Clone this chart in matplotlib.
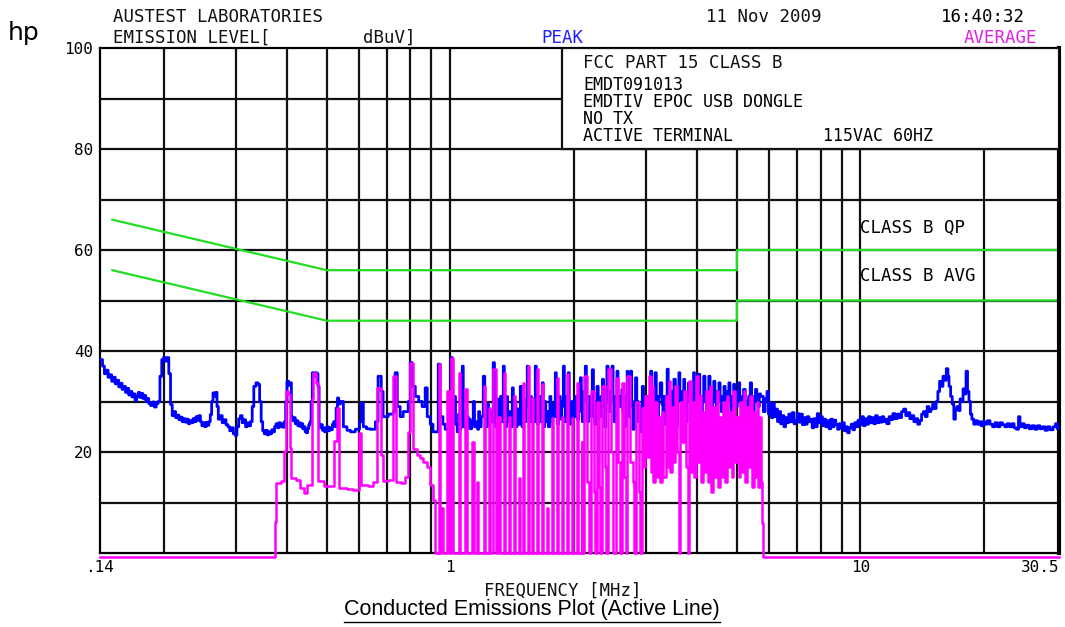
import matplotlib
matplotlib.use("Agg")
import matplotlib.pyplot as plt
from matplotlib.patches import Rectangle
from matplotlib.lines import Line2D

W, H = 1065, 627

# peak detector trace (blue), MHz / dBuV in stretches
peak_mhz_lo = [0.140, 0.142, 0.1435, 0.145, 0.1465, 0.148, 0.1495, 0.151, 0.1525, 0.154,
               0.1555, 0.157, 0.1585, 0.160, 0.1615, 0.163, 0.1645, 0.166, 0.1675, 0.169,
               0.1705, 0.172, 0.1735, 0.175, 0.1765, 0.178, 0.1795, 0.181, 0.1825, 0.184,
               0.186, 0.188, 0.190, 0.192, 0.194, 0.196, 0.198, 0.200, 0.202, 0.204,
               0.206, 0.208, 0.210, 0.212, 0.214, 0.216, 0.218, 0.220, 0.222, 0.224,
               0.226, 0.228, 0.230, 0.232, 0.234, 0.236, 0.238, 0.240, 0.242, 0.244,
               0.246, 0.248, 0.250, 0.252, 0.254, 0.256, 0.258, 0.260, 0.262, 0.264,
               0.266, 0.268, 0.270, 0.272, 0.275, 0.278, 0.281, 0.284, 0.287, 0.290,
               0.293, 0.296, 0.299, 0.302, 0.305, 0.308, 0.311, 0.314, 0.317, 0.320,
               0.323, 0.326, 0.329, 0.332, 0.336, 0.340, 0.343, 0.346, 0.349, 0.352,
               0.355, 0.358, 0.361, 0.364, 0.367, 0.370, 0.373, 0.376, 0.379, 0.382,
               0.385, 0.388, 0.391, 0.394, 0.397, 0.400, 0.404, 0.408, 0.410, 0.413,
               0.416, 0.419, 0.422, 0.425, 0.428, 0.431, 0.434, 0.437, 0.440, 0.443,
               0.446, 0.449, 0.452, 0.455, 0.458, 0.461, 0.465, 0.469, 0.473, 0.476,
               0.479, 0.482, 0.485, 0.488, 0.491, 0.494, 0.497, 0.500, 0.504, 0.508,
               0.512, 0.516, 0.520, 0.524, 0.527, 0.531, 0.535]
peak_dbuv_lo = [38.3, 37.0, 35.5, 36.2, 34.8, 35.3, 34.0, 34.8, 33.5, 34.2,
                32.9, 33.6, 32.4, 33.0, 31.8, 32.6, 31.3, 32.0, 30.9, 31.5,
                30.2, 31.0, 31.8, 30.8, 31.6, 30.6, 31.2, 30.0, 30.6, 29.6,
                29.2, 29.9, 28.9, 29.6, 30.0, 35.0, 38.3, 38.7, 38.0, 38.7,
                35.5, 29.4, 27.2, 28.0, 26.8, 27.3, 26.4, 26.9, 26.0, 26.6,
                25.9, 26.5, 25.6, 26.2, 25.8, 26.6, 26.0, 27.0, 26.3, 27.2,
                26.0, 25.2, 25.8, 25.0, 25.9, 25.3, 26.0, 27.4, 30.0, 31.7,
                31.0, 31.8, 29.0, 26.5, 27.2, 25.8, 26.4, 25.4, 25.0, 24.2,
                24.8, 23.6, 23.3, 25.0, 26.6, 27.2, 25.8, 26.4, 25.0, 25.8,
                25.2, 26.0, 29.0, 33.0, 33.7, 33.4, 30.0, 26.0, 24.2, 23.6,
                24.3, 23.4, 24.0, 23.6, 24.4, 24.0, 25.0, 25.6, 24.8, 25.8,
                25.0, 25.6, 24.9, 26.0, 30.0, 34.0, 33.2, 33.7, 27.0, 26.2,
                26.8, 25.6, 26.2, 25.2, 25.8, 25.0, 25.6, 24.6, 25.0, 24.0,
                23.8, 24.6, 25.4, 26.0, 30.0, 35.7, 35.0, 35.7, 35.5, 33.0,
                25.5, 24.8, 25.4, 24.3, 24.8, 24.0, 24.6, 25.0, 24.2, 24.8,
                24.4, 25.5, 26.0, 25.0, 28.7, 30.7, 29.5]

peak_mhz_mid = [0.540, 0.549, 0.560, 0.571, 0.587, 0.601, 0.607, 0.614, 0.625, 0.638,
                0.657, 0.667, 0.679, 0.686, 0.706, 0.726, 0.734, 0.743, 0.755, 0.768,
                0.790, 0.799, 0.808, 0.822, 0.838, 0.854, 0.869, 0.879, 0.894, 0.908,
                0.935, 0.945, 0.960, 0.972, 0.990]
peak_dbuv_mid = [30.0, 25.0, 24.3, 24.0, 24.5, 26.0, 29.7, 25.0, 24.6, 24.5,
                 26.0, 35.0, 32.0, 27.0, 27.5, 28.0, 35.7, 29.0, 27.0, 28.0,
                 30.0, 37.7, 33.0, 31.0, 30.0, 29.0, 32.7, 27.0, 25.5, 24.0,
                 37.4, 27.0, 25.5, 24.5, 27.0]

peak_mhz_comb = [1.005, 1.012, 1.017, 1.024, 1.030, 1.040, 1.048, 1.055, 1.062, 1.070,
                 1.076, 1.085, 1.092, 1.098, 1.106, 1.112, 1.119, 1.128, 1.138, 1.146,
                 1.157, 1.166, 1.173, 1.180, 1.190, 1.204, 1.214, 1.224, 1.232, 1.240,
                 1.250, 1.262, 1.273, 1.282, 1.290, 1.300, 1.308, 1.315, 1.326, 1.336,
                 1.347, 1.355, 1.362, 1.372, 1.380, 1.390, 1.402, 1.417, 1.425, 1.436,
                 1.446, 1.455, 1.466, 1.482, 1.490, 1.497, 1.510, 1.520, 1.530, 1.541,
                 1.550, 1.558, 1.570, 1.578, 1.585, 1.600, 1.612, 1.622, 1.631, 1.643,
                 1.655, 1.665, 1.677, 1.686, 1.700, 1.710, 1.720, 1.735, 1.750, 1.760,
                 1.770, 1.785, 1.804, 1.814, 1.824, 1.838, 1.855, 1.870, 1.887, 1.898,
                 1.908, 1.925, 1.940, 1.951, 1.962, 1.980, 2.000, 2.020, 2.040, 2.058,
                 2.076, 2.088, 2.100, 2.118,
                 2.135, 2.148, 2.160, 2.175, 2.190, 2.205, 2.220, 2.235, 2.250, 2.265,
                 2.280, 2.295, 2.310, 2.330, 2.350, 2.365, 2.380, 2.395, 2.410, 2.425,
                 2.440, 2.460, 2.480, 2.495, 2.510, 2.530, 2.550, 2.565, 2.580, 2.600,
                 2.620, 2.635, 2.650, 2.675, 2.700, 2.710, 2.720, 2.735, 2.750, 2.770,
                 2.790, 2.810, 2.830, 2.850, 2.870, 2.890, 2.910, 2.925, 2.940, 2.960,
                 2.980, 3.000,
                 3.02, 3.05, 3.08, 3.10, 3.12, 3.14, 3.16, 3.18, 3.20, 3.22,
                 3.25, 3.28, 3.30, 3.32, 3.34, 3.36, 3.38, 3.40, 3.43, 3.45,
                 3.47, 3.49, 3.51, 3.54, 3.56, 3.58, 3.61, 3.63, 3.66, 3.68,
                 3.71, 3.73, 3.76, 3.78, 3.81, 3.83, 3.86, 3.89, 3.92, 3.94,
                 3.97, 4.00, 4.03, 4.06, 4.09, 4.12, 4.15, 4.18, 4.21, 4.24,
                 4.27, 4.30, 4.33, 4.36, 4.39, 4.42, 4.45, 4.48, 4.52, 4.55,
                 4.58, 4.61, 4.65, 4.68, 4.71, 4.74, 4.78, 4.81, 4.84, 4.87,
                 4.91, 4.94, 4.98, 5.01, 5.05, 5.08, 5.12, 5.15, 5.19, 5.24,
                 5.29, 5.34, 5.39, 5.43, 5.47, 5.51, 5.55, 5.59, 5.63, 5.67,
                 5.71]
peak_dbuv_comb = [38.7, 30.0, 26.0, 31.0, 25.5, 24.0, 27.5, 24.5, 29.0, 37.0,
                  25.0, 28.0, 24.5, 27.0, 25.0, 26.5, 24.6, 26.0, 30.0, 25.0,
                  26.0, 24.5, 28.0, 25.0, 27.0, 35.0, 27.0, 25.0, 29.5, 25.5,
                  28.0, 26.0, 37.7, 27.0, 25.0, 30.5, 25.5, 27.0, 31.0, 26.0,
                  37.0, 28.0, 25.0, 31.0, 26.0, 28.0, 25.0, 32.7, 26.0, 30.0,
                  25.0, 28.5, 25.5, 33.0, 27.0, 25.0, 30.0, 26.0, 30.5, 37.0,
                  29.0, 26.0, 31.0, 26.0, 29.0, 26.0, 37.0, 29.0, 25.5, 31.0,
                  26.0, 29.0, 33.7, 25.0, 30.0, 26.0, 28.0, 25.0, 31.0, 26.0,
                  29.5, 27.0, 35.7, 28.0, 25.5, 31.0, 26.5, 30.0, 37.0, 29.0,
                  26.0, 31.0, 35.7, 28.0, 25.5, 30.0, 27.0, 31.0, 26.5, 30.0,
                  34.7, 28.0, 26.0, 32.0,
                  37.0, 30.0, 26.0, 31.0, 30.0, 27.0, 36.3, 29.0, 25.5, 30.0,
                  33.0, 29.0, 27.0, 31.0, 34.4, 29.0, 25.0, 31.0, 37.0, 30.0,
                  28.0, 32.0, 37.0, 30.0, 26.0, 31.0, 36.0, 31.0, 29.0, 31.0,
                  32.4, 28.0, 25.0, 31.0, 36.0, 30.0, 27.0, 31.0, 36.0, 29.0,
                  24.5, 30.0, 34.7, 30.0, 26.0, 29.0, 24.0, 28.0, 33.0, 30.0,
                  27.0, 31.0,
                  25.0, 31.0, 36.0, 30.0, 28.0, 32.0, 35.7, 29.0, 26.0, 31.0,
                  33.7, 29.5, 27.0, 31.0, 25.5, 30.0, 36.4, 30.0, 26.0, 32.0,
                  30.0, 27.0, 34.4, 29.0, 25.0, 31.0, 35.7, 30.0, 27.0, 32.0,
                  34.4, 29.0, 26.0, 31.0, 33.7, 30.0, 28.0, 32.0, 35.7, 30.0,
                  27.0, 32.0, 35.4, 30.0, 26.0, 31.0, 35.0, 30.0, 28.0, 32.0,
                  35.0, 30.0, 27.0, 31.0, 34.0, 30.0, 29.0, 32.0, 33.7, 30.0,
                  28.0, 31.0, 33.0, 30.0, 29.0, 32.0, 33.7, 30.0, 28.0, 31.0,
                  33.4, 30.0, 29.0, 32.0, 33.7, 30.0, 28.5, 31.0, 32.4, 30.0,
                  29.0, 31.0, 33.7, 30.0, 28.0, 31.0, 32.4, 30.0, 29.0, 31.5,
                  31.0]

peak_mhz_hi = [5.80, 5.86, 5.92, 5.97, 6.02, 6.07, 6.12, 6.17, 6.22, 6.28,
               6.33, 6.39, 6.45, 6.51, 6.57, 6.63, 6.69, 6.76, 6.82, 6.89,
               6.95, 7.02, 7.09, 7.15, 7.22, 7.29, 7.35, 7.42, 7.49, 7.56,
               7.63, 7.70, 7.78, 7.85, 7.92, 8.00, 8.08, 8.15, 8.23, 8.31,
               8.39, 8.47, 8.55, 8.63, 8.71, 8.80, 8.88, 8.96, 9.05, 9.14,
               9.22, 9.31, 9.40, 9.50, 9.59, 9.68, 9.78, 9.87, 9.97, 10.07,
               10.17, 10.27, 10.37, 10.47, 10.57, 10.68, 10.78, 10.89, 11.0, 11.1,
               11.2, 11.3, 11.4, 11.5, 11.6, 11.75, 11.9, 12.0, 12.15, 12.3,
               12.45, 12.6, 12.75, 12.9, 13.05, 13.2, 13.35, 13.5, 13.65, 13.8,
               13.95, 14.1, 14.25, 14.4, 14.55, 14.7, 14.85, 15.0, 15.15, 15.3,
               15.45, 15.6, 15.75, 15.9, 16.05, 16.2, 16.35, 16.45, 16.6, 16.75,
               16.9, 17.05, 17.2, 17.35, 17.5, 17.65, 17.8, 17.95, 18.1, 18.25,
               18.4, 18.55, 18.7, 18.9, 19.1, 19.3, 19.5, 19.7, 19.9, 20.1,
               20.4, 20.7, 21.0, 21.3, 21.6, 21.9, 22.2, 22.5, 22.8, 23.1,
               23.4, 23.7, 24.0, 24.3, 24.5, 24.8, 25.1, 25.4, 25.8, 26.2,
               26.6, 27.0, 27.4, 27.8, 28.2, 28.6, 29.0, 29.5, 29.9, 30.2,
               30.5]
peak_dbuv_hi = [28.0, 30.5, 32.0, 27.5, 29.5, 26.8, 29.7, 27.0, 28.5, 26.0,
                28.0, 25.6, 27.2, 25.0, 26.8, 25.8, 27.5, 26.0, 27.8, 25.6,
                26.3, 27.6, 25.9, 27.5, 25.4, 26.8, 25.5, 27.0, 26.0, 26.5,
                24.8, 26.6, 25.0, 27.6, 25.8, 27.0, 25.2, 26.5, 25.0, 26.2,
                24.6, 26.5, 25.0, 26.3, 25.5, 24.5, 25.6, 24.8, 25.8, 24.2,
                25.0, 23.8, 24.8, 25.5, 24.4, 25.8, 25.0, 26.3, 25.4, 27.0,
                25.2, 26.6, 25.5, 27.0, 25.8, 26.8, 25.6, 27.2, 25.8, 26.8,
                25.9, 27.0, 26.0, 26.5, 25.6, 27.0, 26.4, 27.6, 26.6, 27.5,
                26.8, 28.0, 28.5, 27.2, 27.8, 26.6, 27.2, 26.0, 26.6, 25.5,
                26.2, 27.5, 28.0, 27.0, 29.0, 28.0, 28.5, 29.5, 28.6, 30.0,
                32.0, 34.0, 33.0, 35.0, 34.2, 36.5, 35.0, 33.0, 31.0, 29.5,
                26.5, 28.5, 29.0, 28.2, 30.5, 30.0, 32.5, 31.5, 36.0, 32.0,
                30.0, 27.5, 26.5, 25.5, 26.2, 25.5, 26.0, 25.2, 26.0, 25.5,
                26.2, 25.5, 25.0, 25.8, 25.0, 25.8, 25.4, 25.0, 25.6, 25.0,
                25.6, 24.8, 24.5, 27.0, 25.0, 25.6, 24.8, 25.3, 24.6, 25.2,
                24.5, 25.2, 24.6, 25.0, 24.3, 25.0, 24.4, 25.0, 25.6, 24.6,
                25.0]

# average detector trace (magenta), MHz / dBuV
avg_mhz = [0.140, 0.373, 0.377, 0.387, 0.394, 0.398, 0.402, 0.406, 0.410, 0.421,
           0.431, 0.440, 0.448, 0.459, 0.463, 0.471, 0.476, 0.491, 0.513, 0.522,
           0.530, 0.537, 0.560, 0.580, 0.598, 0.606, 0.630, 0.650, 0.663, 0.677,
           0.684, 0.705, 0.727, 0.737, 0.760, 0.775, 0.791, 0.799, 0.812, 0.830,
           0.845, 0.860, 0.876, 0.894, 0.906, 0.919, 0.939, 0.945, 0.952, 0.960,
           0.982, 0.991, 1.006, 1.015, 1.048, 1.058, 1.088, 1.098, 1.130, 1.140,
           1.160, 1.170, 1.206, 1.216, 1.240, 1.250, 1.275, 1.290, 1.310, 1.320,
           1.350, 1.360, 1.390, 1.400, 1.430, 1.440, 1.470, 1.480, 1.505, 1.515,
           1.545, 1.555, 1.580, 1.590, 1.627, 1.637, 1.673, 1.683, 1.720, 1.730,
           1.770, 1.780, 1.820, 1.830, 1.870, 1.880, 1.925, 1.935, 1.980, 1.990,
           2.040, 2.050, 2.090, 2.100, 2.120, 2.150, 2.180, 2.210, 2.240, 2.260,
           2.280, 2.310, 2.320, 2.350, 2.380, 2.400, 2.430, 2.470, 2.500, 2.530,
           2.560, 2.590, 2.620, 2.650, 2.680, 2.700, 2.750, 2.790, 2.810, 2.840,
           2.880, 2.910, 2.940, 2.960, 2.990, 3.020, 3.050, 3.080, 3.110, 3.130,
           3.160, 3.190, 3.220, 3.250, 3.280, 3.310, 3.350, 3.380, 3.410, 3.440,
           3.470, 3.510, 3.540, 3.570, 3.610, 3.640, 3.680, 3.720, 3.760, 3.790,
           3.830, 3.860, 3.900, 3.940, 3.970, 4.010, 4.050, 4.090, 4.130, 4.170,
           4.210, 4.250, 4.290, 4.330, 4.370, 4.410, 4.460, 4.500, 4.540, 4.590,
           4.630, 4.670, 4.720, 4.760, 4.810, 4.860, 4.900, 4.950, 5.000, 5.050,
           5.090, 5.140, 5.190, 5.240, 5.290, 5.340, 5.380, 5.440, 5.490, 5.540,
           5.590, 5.640, 5.690, 5.740, 5.770, 5.800, 30.5]
avg_dbuv = [-0.7, 6.2, 13.8, 14.2, 20.1, 32.0, 31.4, 20.7, 14.8, 14.5,
            12.8, 11.8, 13.5, 30.4, 35.7, 33.7, 14.2, 13.2, 13.2, 22.1,
            28.7, 12.8, 12.6, 12.4, 23.8, 13.5, 13.2, 14.0, 32.7, 19.5,
            14.2, 14.5, 35.0, 14.0, 13.8, 15.0, 24.0, 37.7, 20.5, 19.5,
            18.8, 18.0, 17.0, 13.5, 10.5, 0.0, 37.4, 0.0, 9.0, 0.0,
            32.0, 0.0, 38.7, 0.0, 35.7, 0.0, 32.4, 0.0, 22.0, 0.0,
            14.0, 0.0, 33.0, 0.0, 28.7, 0.0, 36.4, 0.0, 27.0, 0.0,
            35.7, 0.0, 27.0, 0.0, 31.0, 0.0, 14.8, 0.0, 33.7, 0.0,
            37.0, 0.0, 30.7, 0.0, 36.4, 0.0, 33.4, 0.0, 9.0, 0.0,
            26.8, 0.0, 34.7, 0.0, 27.0, 0.0, 35.4, 0.0, 26.8, 0.0,
            33.7, 0.0, 22.0, 0.0, 35.0, 14.0, 0.0, 32.0, 12.0, 0.0,
            30.0, 13.0, 0.0, 33.0, 17.0, 0.0, 36.4, 20.0, 0.0, 34.7,
            18.0, 0.0, 33.7, 15.0, 0.0, 35.0, 18.0, 14.0, 0.0, 30.0,
            12.0, 0.0, 28.7, 17.0, 31.0, 19.0, 35.0, 16.0, 33.0, 14.0,
            30.0, 15.0, 27.0, 14.0, 28.0, 15.0, 31.0, 17.0, 34.0, 16.0,
            29.0, 18.0, 33.0, 20.0, 0.0, 30.0, 22.0, 32.0, 17.0, 0.0,
            34.0, 16.0, 30.0, 15.0, 35.0, 18.0, 31.0, 14.0, 28.0, 16.0,
            32.0, 14.0, 33.0, 12.0, 29.0, 15.0, 32.0, 13.0, 27.0, 15.0,
            30.0, 14.0, 31.0, 17.0, 28.0, 15.0, 32.0, 18.0, 27.0, 15.0,
            30.0, 16.0, 32.0, 14.0, 29.0, 17.0, 31.0, 13.0, 28.0, 15.0,
            30.0, 13.0, 27.0, 14.0, 6.0, -0.7, -0.7]

# FCC Part 15 class B limits
qp_mhz = [0.15, 0.5, 5.0, 5.0, 30.0]
qp_dbuv = [66, 56, 56, 60, 60]
av_mhz = [0.15, 0.5, 5.0, 5.0, 30.0]
av_dbuv = [56, 46, 46, 50, 50]

grid_mhz = [0.2, 0.3, 0.4, 0.5, 0.6, 0.7, 0.8, 0.9, 1, 2, 3, 4, 5, 6, 7, 8, 9, 10, 20]
grid_dbuv = [10, 20, 30, 40, 50, 60, 70, 80, 90]
x_ticks = [0.14, 1, 10, 30.5]
x_ticklabels = ['.14', '1', '10', '30.5']
y_ticks = [20, 40, 60, 80, 100]

peak_mhz = peak_mhz_lo + peak_mhz_mid + peak_mhz_comb + peak_mhz_hi
peak_dbuv = peak_dbuv_lo + peak_dbuv_mid + peak_dbuv_comb + peak_dbuv_hi

plt.rcParams['font.family'] = ['DejaVu Sans Mono']

def fx(px):
    return px / W

def fy(py):
    return 1 - py / H

fig = plt.figure(figsize=(W / 100, H / 100), dpi=100)
ax = fig.add_axes([fx(100), fy(553), 959 / W, 505 / H])
ax.set_xscale('log')
ax.set_xlim(0.14, 30.5)
ax.set_ylim(0, 100)

for v in grid_dbuv:
    ax.axhline(v, color='#111111', lw=1.6, zorder=1)
for f in grid_mhz:
    ax.axvline(f, color='#111111', lw=1.6, zorder=1)

ax.plot(qp_mhz, qp_dbuv, color='#22dd22', lw=1.6, zorder=2)
ax.plot(av_mhz, av_dbuv, color='#22dd22', lw=1.6, zorder=2)

ax.plot(peak_mhz, peak_dbuv, color='#0000ff', lw=2.0, drawstyle='steps-post', zorder=3)
ax.plot(avg_mhz, avg_dbuv, color='#ff00ff', lw=1.8, drawstyle='steps-post',
        zorder=4, clip_on=False)

# info box over the top-right of the grid
ax.add_patch(Rectangle((1.876, 80), 30.5 - 1.876, 20, facecolor='white',
                       edgecolor='#111111', lw=1.6, zorder=5))

ax.set_xticks(x_ticks, x_ticklabels)
ax.minorticks_off()
ax.set_yticks(y_ticks, [str(v) for v in y_ticks])
ax.tick_params(length=0, labelsize=11.5, pad=5)
ax.get_xticklabels()[-1].set_ha('right')
for side in ['left', 'top', 'bottom']:
    ax.spines[side].set_linewidth(1.6)
ax.spines['right'].set_linewidth(3)

tk = dict(fontsize=12.5, va='center', color='#111111')
fig.text(fx(8), fy(33), 'hp', fontsize=18, family='DejaVu Sans', va='center')
fig.text(fx(113), fy(17), 'AUSTEST LABORATORIES', **tk)
fig.text(fx(113), fy(38), 'EMISSION LEVEL[', **tk)
fig.text(fx(363), fy(38), 'dBuV]', **tk)
fig.text(fx(541), fy(38), 'PEAK', fontsize=12.5, va='center', color='#2020ff')
fig.text(fx(1037), fy(38), 'AVERAGE', fontsize=12.5, va='center', ha='right', color='#e020e0')
fig.text(fx(706), fy(17), '11 Nov 2009', **tk)
fig.text(fx(1025), fy(17), '16:40:32', ha='right', fontsize=12.5, va='center')

fig.text(fx(583), fy(63), 'FCC PART 15 CLASS B', zorder=6, **tk)
fig.text(fx(583), fy(76), 'EMDT091013\nEMDTIV EPOC USB DONGLE\nNO TX\n'
         'ACTIVE TERMINAL         115VAC 60HZ',
         fontsize=12, va='top', linespacing=0.93, zorder=6)

ax.text(10.0, 64.4, 'CLASS B QP', fontsize=12.5, va='center', zorder=6)
ax.text(10.0, 54.9, 'CLASS B AVG', fontsize=12.5, va='center', zorder=6)

fig.text(fx(563), fy(591), 'FREQUENCY [MHz]', ha='center', **tk)
cap = fig.text(fx(532), fy(610), 'Conducted Emissions Plot (Active Line)',
               family='Liberation Sans', fontsize=15.5, ha='center', va='center')

fig.canvas.draw()
bb = cap.get_window_extent()
fig.add_artist(Line2D([bb.x0 / W, bb.x1 / W], [(bb.y0 - 1) / H] * 2, color='black', lw=1))

fig.savefig('out.png', dpi=100)
